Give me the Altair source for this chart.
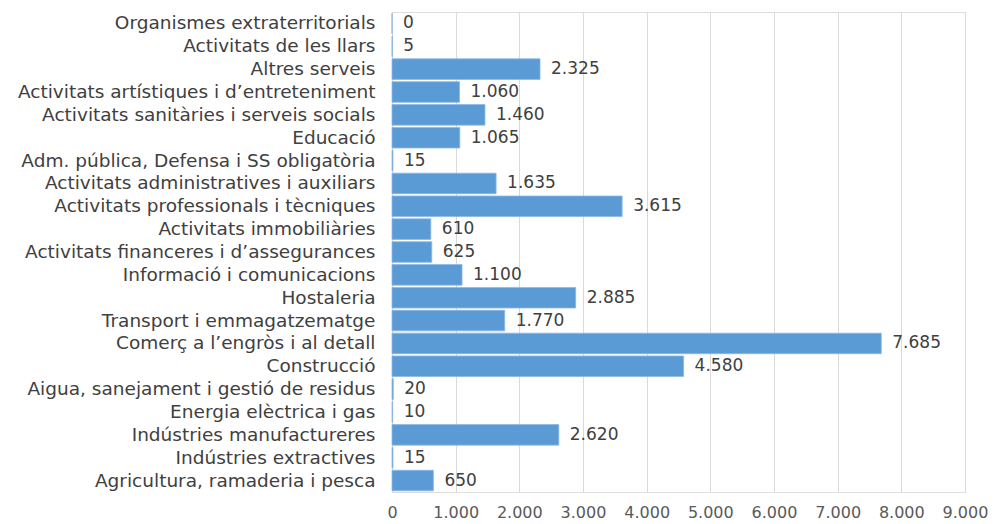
import altair as alt
import pandas as pd

categories = [
    "Organismes extraterritorials",
    "Activitats de les llars",
    "Altres serveis",
    "Activitats artístiques i d’entreteniment",
    "Activitats sanitàries i serveis socials",
    "Educació",
    "Adm. pública, Defensa i SS obligatòria",
    "Activitats administratives i auxiliars",
    "Activitats professionals i tècniques",
    "Activitats immobiliàries",
    "Activitats financeres i d’assegurances",
    "Informació i comunicacions",
    "Hostaleria",
    "Transport i emmagatzematge",
    "Comerç a l’engròs i al detall",
    "Construcció",
    "Aigua, sanejament i gestió de residus",
    "Energia elèctrica i gas",
    "Indústries manufactureres",
    "Indústries extractives",
    "Agricultura, ramaderia i pesca",
]
values = [0, 5, 2325, 1060, 1460, 1065, 15, 1635, 3615, 610, 625, 1100,
          2885, 1770, 7685, 4580, 20, 10, 2620, 15, 650]
x_ticks = [0, 1000, 2000, 3000, 4000, 5000, 6000, 7000, 8000, 9000]

df = pd.DataFrame({"cat": categories, "val": values})

FONT = "DejaVu Sans"

base = alt.Chart(df).encode(
    y=alt.Y("cat:N", sort=categories, title=None,
            axis=alt.Axis(labelFontSize=18.5, labelColor="#404040", labelFont=FONT,
                          ticks=False, domain=True, domainColor="#d9d9d9",
                          labelPadding=17, labelLimit=500,
                          grid=False)),
)

bars = base.mark_bar(color="#5B9BD5", stroke="#8DB8E3", strokeWidth=0.8).encode(
    x=alt.X("val:Q", title=None,
            scale=alt.Scale(domain=[0, 9000], nice=False),
            axis=alt.Axis(values=x_ticks, labelFontSize=16, labelColor="#595959",
                          labelFont=FONT, ticks=False, domain=False,
                          labelFlush=False, labelOverlap=False,
                          grid=True, gridColor="#d9d9d9", labelPadding=12,
                          labelExpr="replace(format(datum.value, ','), ',', '.')")),
)

texts = base.mark_text(align="left", baseline="middle", dx=11, fontSize=17,
                       color="#404040", font=FONT).encode(
    x=alt.X("val:Q"),
    text="lbl:N",
).transform_calculate(lbl="replace(format(datum.val, ','), ',', '.')")

chart = (bars + texts).properties(
    width=573, height=480,
    padding={"left": 9, "top": 4, "right": 0, "bottom": 0},
).configure_scale(bandPaddingInner=0.17, bandPaddingOuter=0.08
).configure_view(stroke=None).configure(background="white")

chart.save("out.html", embed_options={"renderer": "svg", "actions": False})
